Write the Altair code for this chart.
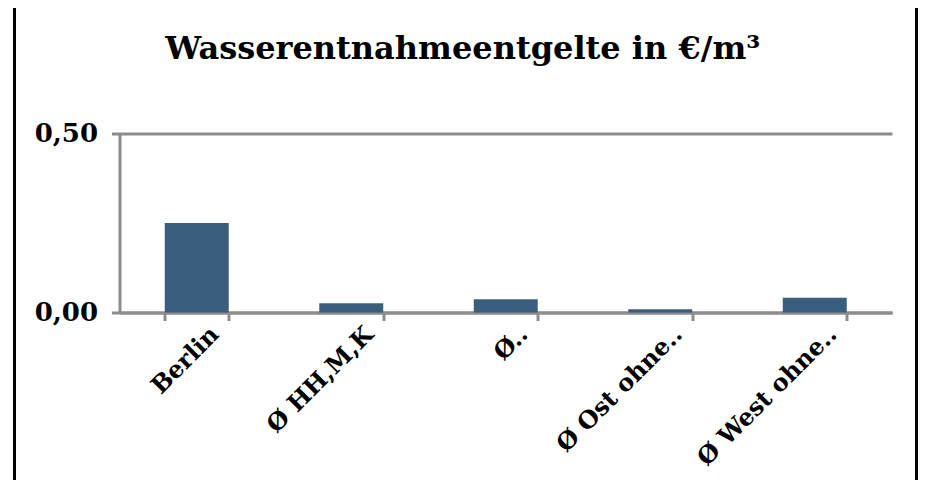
import altair as alt
import pandas as pd

categories = ["Berlin", "Ø HH,M,K", "Ø..", "Ø Ost ohne..", "Ø West ohne.."]
values = [0.25, 0.026, 0.037, 0.009, 0.041]
y_ticks = [0, 0.5]

df = pd.DataFrame({"cat": categories, "val": values})

FONT = "DejaVu Serif"
GRAY = "#8c8c8c"
BAR = "#3a5e7e"

bars = alt.Chart(df).mark_bar(color=BAR).encode(
    x=alt.X("cat:N", sort=categories, title=None,
            scale=alt.Scale(paddingInner=0.586, paddingOuter=0.293),
            axis=alt.Axis(labelAngle=-45, labelAlign="right", labelBaseline="middle",
                          labelFont=FONT, labelFontWeight="bold", labelFontSize=24,
                          labelColor="black", labelOffset=18, labelPadding=10,
                          labelLimit=400,
                          domainColor=GRAY, domainWidth=3, tickColor=GRAY, tickWidth=3,
                          tickSize=8, tickBand="extent", labelOverlap=False)),
    y=alt.Y("val:Q", title=None,
            scale=alt.Scale(domain=[0, 0.5], nice=False),
            axis=alt.Axis(values=y_ticks, labelExpr="replace(format(datum.value, '.2f'), '.', ',')",
                          labelFont=FONT, labelFontWeight="bold", labelFontSize=26,
                          labelColor="black", labelPadding=14,
                          domainColor=GRAY, domainWidth=3, tickColor=GRAY, tickWidth=3,
                          tickSize=8, grid=True, gridColor=GRAY, gridWidth=3)),
)

frame_df = pd.DataFrame({"a": [0]})
left_border = alt.Chart(frame_df).mark_rule(color="black", strokeWidth=3).encode(
    x=alt.value(-105), y=alt.value(-126), y2=alt.value(347))
right_border = alt.Chart(frame_df).mark_rule(color="black", strokeWidth=3).encode(
    x=alt.value(797), y=alt.value(-126), y2=alt.value(347))

chart = alt.layer(bars, left_border, right_border).properties(
    width=772.5, height=179,
    autosize=alt.AutoSizeParams(type="none"),
    padding={"left": 111.5, "top": 125.5, "right": 26, "bottom": 167.5},
    background="white",
    title=alt.TitleParams("Wasserentnahmeentgelte in €/m³", font=FONT, fontWeight="bold",
                          fontSize=32, color="black", anchor="middle", dx=-43,
                          baseline="alphabetic", offset=-85),
).configure_view(stroke=None)

chart.save("out.html", embed_options={"renderer": "svg", "actions": False})
